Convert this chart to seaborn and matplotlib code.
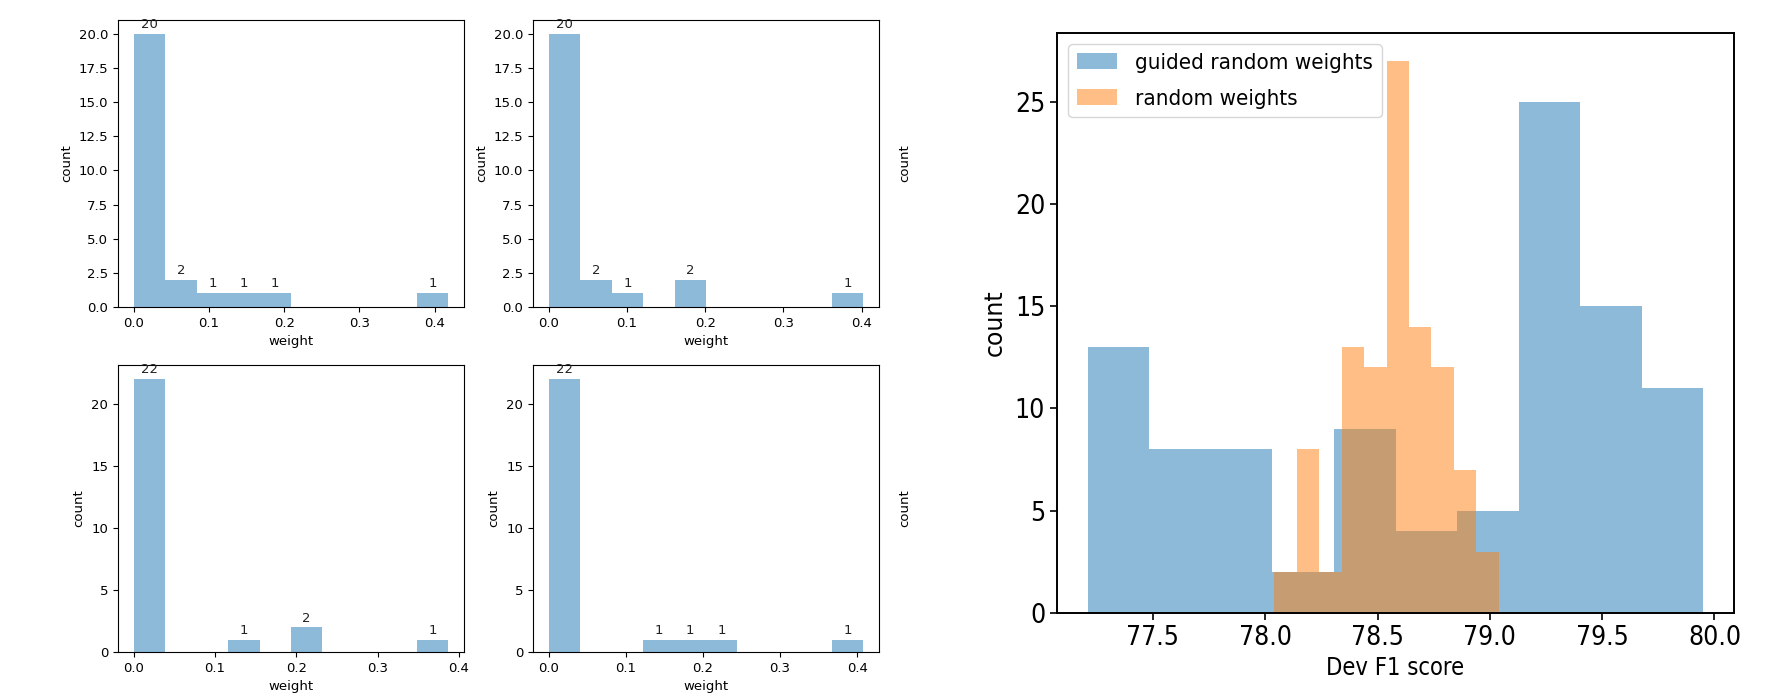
import numpy as np
import matplotlib
matplotlib.use("Agg")
import matplotlib.pyplot as plt
from matplotlib.font_manager import FontProperties
import seaborn as sns

# --- weight histograms (10 bins each, counts) ---
tl_range = (0.0, 0.418)
tl_counts = [20, 2, 1, 1, 1, 0, 0, 0, 0, 1]
tr_range = (0.0, 0.402)
tr_counts = [20, 2, 1, 0, 2, 0, 0, 0, 0, 1]
bl_range = (0.0, 0.387)
bl_counts = [22, 0, 0, 1, 0, 2, 0, 0, 0, 1]
br_range = (0.0, 0.408)
br_counts = [22, 0, 0, 1, 1, 1, 0, 0, 0, 1]

# --- Dev F1 score histograms ---
guided_range = (77.21, 79.95)
guided_counts = [13, 8, 8, 2, 9, 4, 5, 25, 15, 11]
random_range = (78.04, 79.04)
random_counts = [2, 8, 2, 13, 12, 27, 14, 12, 7, 3]

BLUE = "#1f77b4"
ORANGE = "#ff7f0e"


def narrow(size):
    return FontProperties(family=["DejaVu Sans"], stretch="condensed", size=size)


def hist_from_counts(ax, rng, counts, color, label=None):
    edges = np.linspace(rng[0], rng[1], len(counts) + 1)
    centers = (edges[:-1] + edges[1:]) / 2
    sns.histplot(x=centers, weights=counts, bins=list(edges), ax=ax, color=color,
                 alpha=0.5, linewidth=0, label=label)
    return centers


fig = plt.figure(figsize=(17.8, 6.96), dpi=100)
W, H = 1780, 696

small = [
    (118, 20, tl_range, tl_counts),
    (533, 20, tr_range, tr_counts),
    (118, 365, bl_range, bl_counts),
    (533, 365, br_range, br_counts),
]
for left, top, rng, counts in small:
    ax = fig.add_axes([left / W, 1 - (top + 287) / H, 346 / W, 287 / H])
    centers = hist_from_counts(ax, rng, counts, BLUE)
    for c, h in zip(centers, counts):
        if h > 0:
            ax.text(c, h + 0.45, str(h), ha="center", fontsize=9.5, color="#222222")
    ax.set_xticks([0.0, 0.1, 0.2, 0.3, 0.4])
    ax.set_xlabel("weight", fontsize=9.5)
    ax.set_ylabel("count", fontsize=9.5)
    ax.tick_params(labelsize=9.5)

# empty third column, only the y label is left
for top in (20, 365):
    ax = fig.add_axes([917 / W, 1 - (top + 287) / H, 40 / W, 287 / H])
    ax.set_frame_on(False)
    ax.set_xticks([])
    ax.set_yticks([])
    ax.set_ylabel("count", fontsize=9.5)

# --- big chart ---
ax = fig.add_axes([1057 / W, 1 - 613 / H, 677 / W, 580 / H])
hist_from_counts(ax, guided_range, guided_counts, BLUE, "guided random weights")
hist_from_counts(ax, random_range, random_counts, ORANGE, "random weights")
ax.set_xticks([77.5, 78.0, 78.5, 79.0, 79.5, 80.0])
ax.set_yticks([0, 5, 10, 15, 20, 25])
ax.tick_params(width=1.2, length=5)
for lbl in ax.get_xticklabels() + ax.get_yticklabels():
    lbl.set_fontproperties(narrow(19))
ax.set_xlabel("Dev F1 score", fontproperties=narrow(17))
ax.set_ylabel("count", fontsize=17, labelpad=6)
for sp in ax.spines.values():
    sp.set_linewidth(1.4)
ax.legend(loc="upper left", prop=narrow(16), labelspacing=0.7,
          handlelength=1.8)

fig.savefig("out.png", dpi=100)
